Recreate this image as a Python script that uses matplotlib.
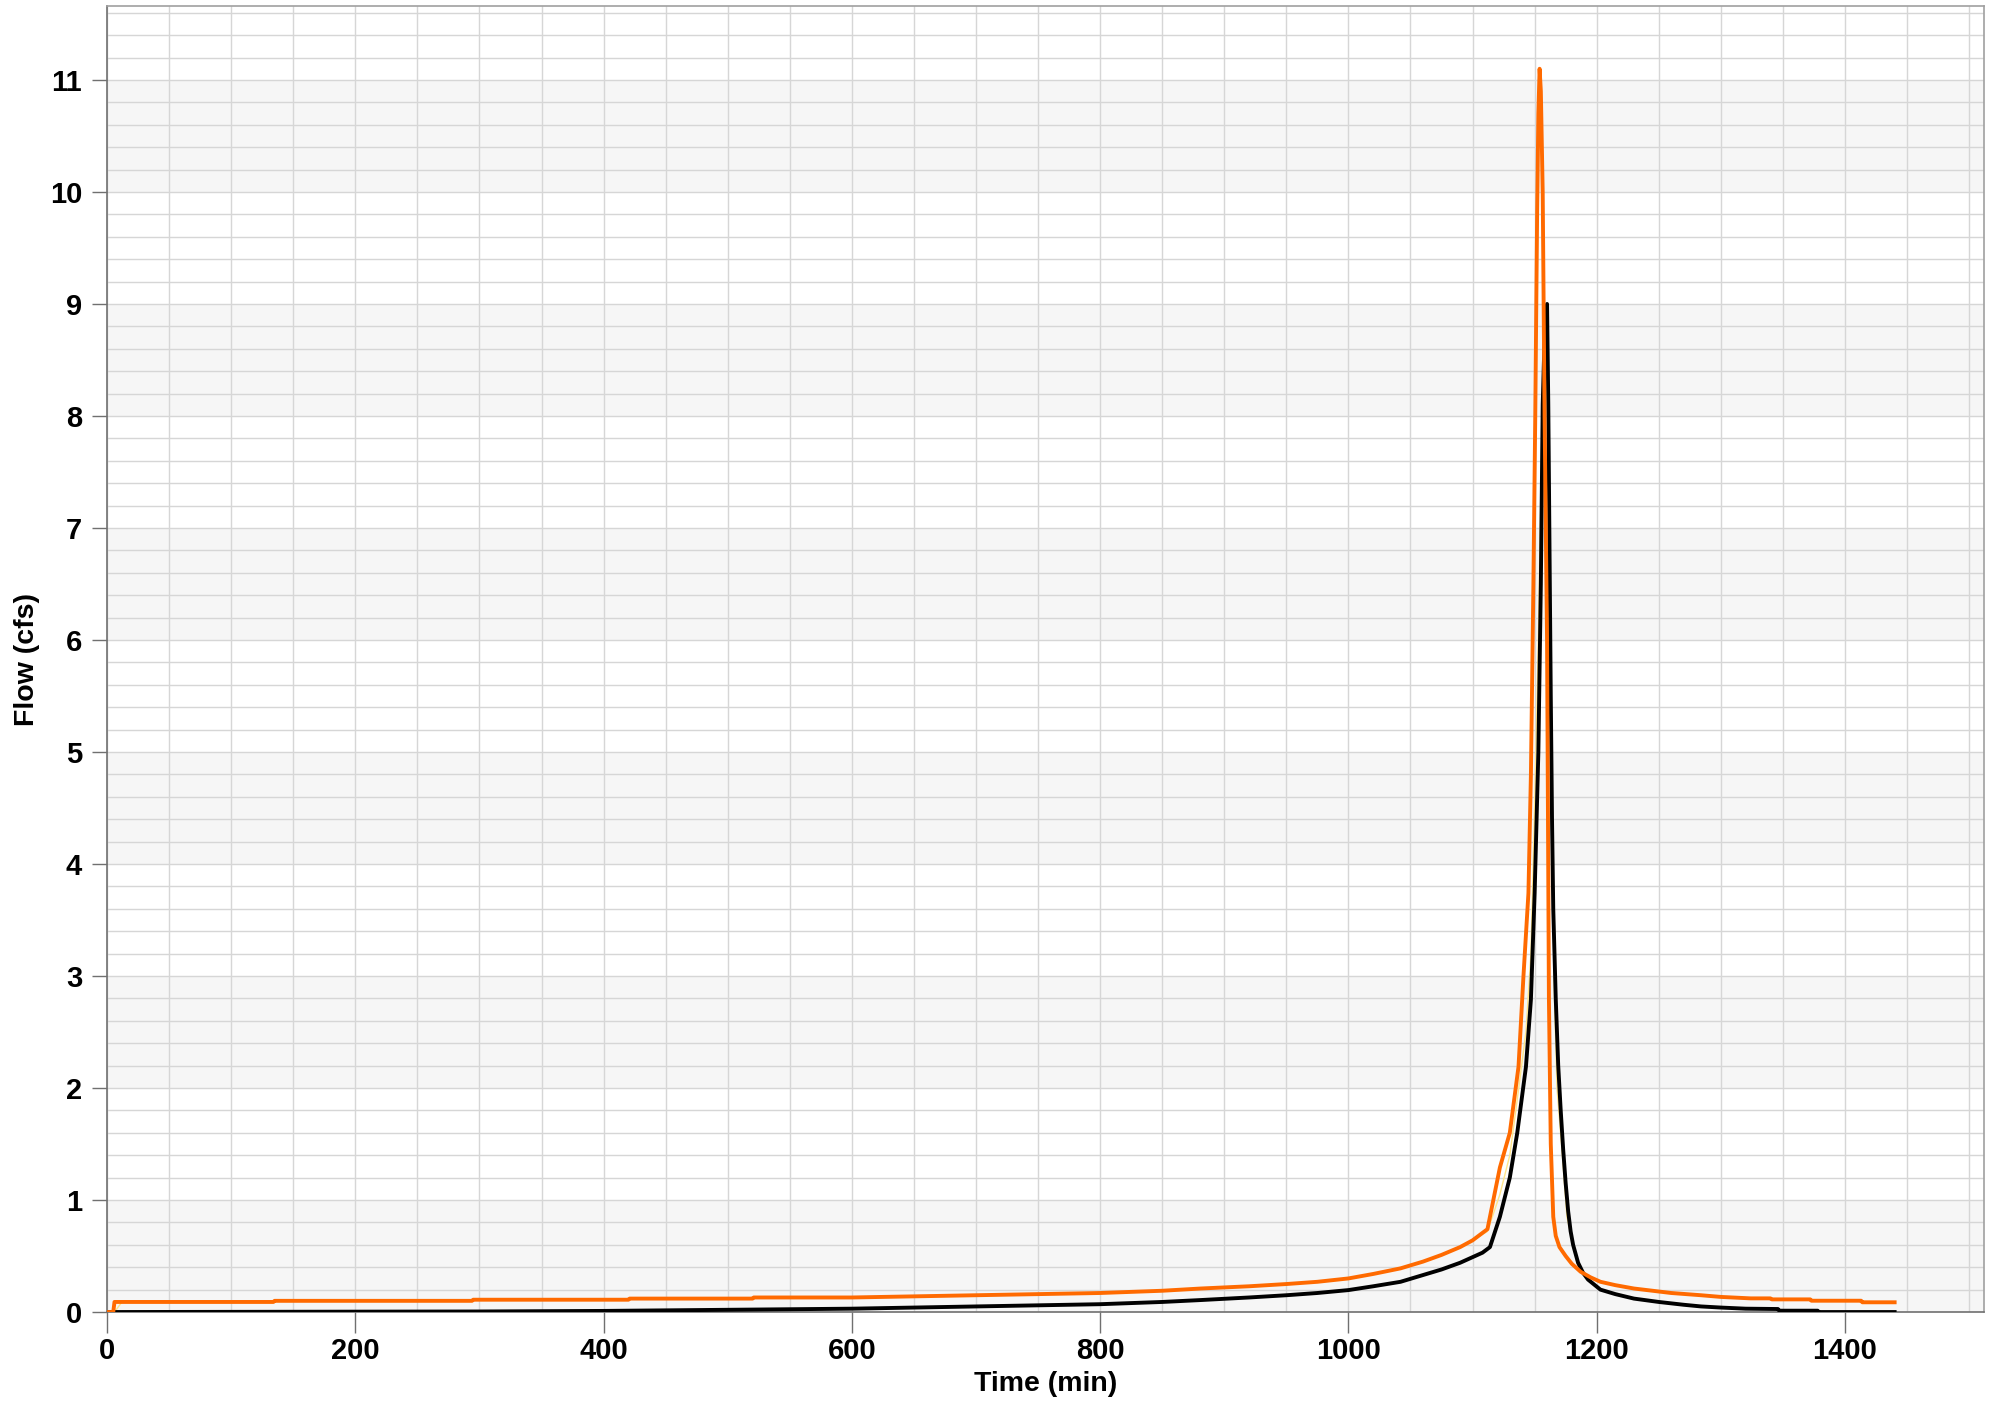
import matplotlib.pyplot as plt
from matplotlib.ticker import MultipleLocator

# Outflow hydrograph (orange), routed flow (black), intermediate (pale yellow)
t_orange = [0, 5, 6, 134, 135, 294, 295, 420, 421, 520, 521, 600, 650, 700, 750, 800,
            850, 881, 920, 950, 975, 1000, 1020, 1042, 1060, 1075, 1090, 1100, 1112, 1122,
            1130, 1137, 1141, 1145, 1147, 1149, 1150.5, 1152, 1153, 1154, 1155, 1156.5,
            1158, 1159, 1160, 1161.5, 1163, 1165, 1167, 1170, 1175, 1180, 1187, 1195, 1203,
            1215, 1230, 1245, 1260, 1284, 1300, 1324, 1340, 1341, 1372, 1373, 1413, 1414,
            1440]
q_orange = [0, 0, 0.09, 0.09, 0.10, 0.10, 0.11, 0.11, 0.12, 0.12, 0.13, 0.13, 0.14, 0.15,
            0.16, 0.17, 0.19, 0.21, 0.23, 0.25, 0.27, 0.30, 0.34, 0.39, 0.45, 0.51, 0.58,
            0.64, 0.74, 1.29, 1.6, 2.19, 3.0, 3.74, 4.8, 6.5, 8.0, 9.8, 10.7, 11.1, 10.9,
            10.0, 8.0, 7.0, 6.0, 2.8, 1.5, 0.85, 0.68, 0.58, 0.5, 0.43, 0.36, 0.31, 0.27,
            0.24, 0.21, 0.19, 0.17, 0.15, 0.135, 0.122, 0.122, 0.113, 0.113, 0.101, 0.101,
            0.087, 0.087]

t_black = [0, 300, 400, 500, 600, 700, 800, 850, 881, 920, 950, 975, 1000, 1020, 1042,
           1060, 1075, 1090, 1100, 1108, 1114, 1122, 1130, 1136, 1143, 1147, 1150, 1153,
           1155, 1156.5, 1158, 1160, 1161, 1162, 1163, 1164, 1165, 1167, 1169, 1171, 1173,
           1175, 1177, 1179, 1181, 1185, 1189, 1193, 1203, 1215, 1230, 1250, 1270, 1284,
           1300, 1320, 1346, 1347, 1378, 1379, 1440]
q_black = [0, 0.005, 0.01, 0.02, 0.03, 0.05, 0.07, 0.09, 0.107, 0.13, 0.15, 0.17, 0.196,
           0.23, 0.27, 0.33, 0.38, 0.44, 0.49, 0.53, 0.58, 0.85, 1.2, 1.6, 2.19, 2.79, 3.74,
           5.0, 6.5, 8.1, 8.7, 9.0, 8.1, 6.8, 5.5, 4.4, 3.6, 2.8, 2.2, 1.8, 1.45, 1.15, 0.9,
           0.72, 0.6, 0.44, 0.35, 0.29, 0.20, 0.16, 0.12, 0.09, 0.065, 0.05, 0.04, 0.03,
           0.027, 0.012, 0.012, 0.0, 0.0]

t_yellow = [0, 6, 12, 134, 135, 294, 295, 420, 421, 520, 521, 600, 650, 700, 750, 800,
            850, 881, 920, 950, 975, 1000, 1020, 1042, 1060, 1075, 1090, 1100, 1112, 1122,
            1130, 1136, 1143, 1147, 1150, 1153, 1156, 1159, 1160, 1162, 1164, 1166, 1168,
            1172, 1176, 1184, 1190, 1203, 1230, 1284, 1324, 1440]
q_yellow = [0, 0, 0.09, 0.09, 0.10, 0.10, 0.11, 0.11, 0.12, 0.12, 0.13, 0.13, 0.14, 0.15,
            0.16, 0.17, 0.19, 0.21, 0.23, 0.25, 0.27, 0.30, 0.34, 0.39, 0.45, 0.51, 0.58,
            0.64, 0.72, 1.05, 1.4, 1.9, 2.5, 3.2, 4.5, 6.0, 8.0, 8.8, 8.5, 6.0, 4.0, 2.79,
            2.0, 1.45, 0.85, 0.44, 0.33, 0.27, 0.21, 0.15, 0.122, 0.087]

x_ticks = [0, 200, 400, 600, 800, 1000, 1200, 1400]
y_ticks = list(range(0, 12))

plt.rcParams['font.family'] = ['Liberation Sans', 'DejaVu Sans']

fig = plt.figure(figsize=(19.97, 14.04), dpi=100)
ax = fig.add_axes([0.0536, 0.0655, 0.9399, 0.9302])

# alternating shaded bands
for k in range(0, 11, 2):
    ax.axhspan(k, k + 1, color='#F6F6F6', zorder=0, lw=0)

ax.xaxis.set_minor_locator(MultipleLocator(50))
ax.yaxis.set_minor_locator(MultipleLocator(0.2))
ax.grid(which='both', color='#D6D6D6', linewidth=1.0, zorder=1)
ax.set_axisbelow(True)

ax.plot(t_yellow, q_yellow, color='#FFE58A', lw=1.0, zorder=2)
ax.plot(t_black, q_black, color='black', lw=2.8, zorder=3)
ax.plot(t_orange, q_orange, color='#FF6A00', lw=2.8, zorder=4)

ax.set_xlim(0, 1512)
ax.set_ylim(0, 11.66)
ax.set_xticks(x_ticks)
ax.set_yticks(y_ticks)

ax.tick_params(axis='both', which='minor', length=0)
ax.tick_params(axis='x', which='major', length=15, width=1, color='#707070',
               labelsize=21, pad=3)
ax.tick_params(axis='y', which='major', length=11, width=1, color='#707070',
               labelsize=21, pad=7)
for lab in ax.get_xticklabels() + ax.get_yticklabels():
    lab.set_fontweight('bold')

for side in ['left', 'bottom']:
    ax.spines[side].set_color('#707070')
for side in ['top', 'right']:
    ax.spines[side].set_color('#A0A0A0')
for sp in ax.spines.values():
    sp.set_linewidth(1.2)

ax.set_xlabel('Time (min)', fontsize=20.5, fontweight='bold', labelpad=4)
ax.set_ylabel('Flow (cfs)', fontsize=20.5, fontweight='bold', labelpad=7)

fig.savefig('out.png', dpi=100)
